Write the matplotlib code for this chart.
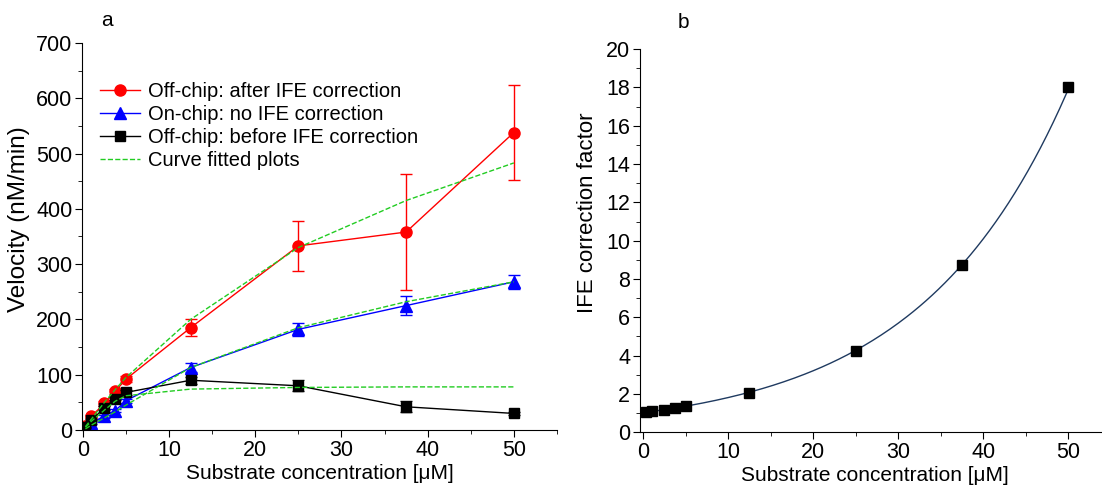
import matplotlib
matplotlib.use("Agg")
import matplotlib.pyplot as plt
import numpy as np
from matplotlib.ticker import MultipleLocator

plt.rcParams["font.family"] = ["Liberation Sans", "DejaVu Sans"]

# substrate concentrations (uM)
conc = [0.3, 1.0, 2.5, 3.75, 5.0, 12.5, 25.0, 37.5, 50.0]

# panel a: velocities (nM/min)
after_ife = [8, 25, 48, 70, 92, 185, 333, 358, 538]
after_ife_err = [2, 3, 4, 5, 5, 15, 45, 105, 86]
on_chip = [3, 12, 25, 35, 53, 113, 182, 225, 268]
on_chip_err = [1, 2, 3, 3, 4, 8, 12, 17, 13]
before_ife = [5, 18, 40, 57, 68, 90, 80, 42, 30]
before_ife_err = [1, 2, 3, 3, 4, 6, 10, 10, 3]

# fitted curves
fit_after = [6, 20, 50, 73, 95, 200, 330, 415, 483]
fit_on = [2, 9, 22, 33, 45, 113, 185, 232, 268]
fit_before = [5, 16, 36, 52, 62, 74, 77, 78, 78]

# panel b: IFE correction factor
ife_factor = [1.05, 1.1, 1.17, 1.25, 1.35, 2.05, 4.25, 8.75, 18.0]

fig = plt.figure(figsize=(11.02, 4.9), dpi=100)
ax1 = fig.add_axes([0.0744, 0.1224, 0.431, 0.790])
ax2 = fig.add_axes([0.5808, 0.118, 0.427, 0.7816])

green = "#22cc22"
series = [
    (after_ife, after_ife_err, "#ff0000", "o", 8, "Off-chip: after IFE correction"),
    (on_chip, on_chip_err, "#0000ff", "^", 8, "On-chip: no IFE correction"),
    (before_ife, before_ife_err, "black", "s", 6.5, "Off-chip: before IFE correction"),
]
for vals, errs, col, mk, size, lab in series:
    ax1.errorbar(conc, vals, yerr=errs, fmt="none", ecolor=col, capsize=4, elinewidth=1)
    ax1.plot(conc, vals, color=col, marker=mk, ms=size, lw=1, label=lab)
ax1.plot(conc, fit_after, "--", color=green, lw=1, label="Curve fitted plots")
ax1.plot(conc, fit_on, "--", color=green, lw=1)
ax1.plot(conc, fit_before, "--", color=green, lw=1)

ax1.set_xlim(-0.1, 55)
ax1.set_ylim(0, 700)
ax1.xaxis.set_major_locator(MultipleLocator(10))
ax1.xaxis.set_minor_locator(MultipleLocator(5))
ax1.yaxis.set_major_locator(MultipleLocator(100))
ax1.yaxis.set_minor_locator(MultipleLocator(50))
ax1.set_xlabel("Substrate concentration [μM]", fontsize=15, labelpad=2)
ax1.set_ylabel("Velocity (nM/min)", fontsize=17.5, labelpad=4, y=0.545)
ax1.legend(loc="upper left", bbox_to_anchor=(0.02, 0.92), frameon=False,
           fontsize=14.5, handlelength=2, handletextpad=0.4, labelspacing=0.2,
           borderaxespad=0)
ax1.text(0.04, 1.045, "a", transform=ax1.transAxes, fontsize=15)

# panel b: exponential fit of the correction factor
coef = np.polyfit(conc, np.log(ife_factor), 1)
xs = np.linspace(conc[0], conc[-1], 200)
ax2.plot(xs, np.exp(np.polyval(coef, xs)), color="#1f3a60", lw=1)
ax2.plot(conc, ife_factor, "s", color="black", ms=6.5)
ax2.set_xlim(-0.35, 55)
ax2.set_ylim(0, 20)
ax2.xaxis.set_major_locator(MultipleLocator(10))
ax2.xaxis.set_minor_locator(MultipleLocator(5))
ax2.yaxis.set_major_locator(MultipleLocator(2))
ax2.yaxis.set_minor_locator(MultipleLocator(1))
ax2.set_xlabel("Substrate concentration [μM]", fontsize=15, labelpad=2)
ax2.set_ylabel("IFE correction factor", fontsize=16, labelpad=6, y=0.572)
ax2.text(0.08, 1.055, "b", transform=ax2.transAxes, fontsize=15)

for ax in (ax1, ax2):
    ax.spines["top"].set_visible(False)
    ax.spines["right"].set_visible(False)
    ax.tick_params(which="major", direction="out", length=5, labelsize=15.5, pad=2)
    ax.tick_params(which="minor", direction="out", length=3)

fig.savefig("out.png", dpi=100)
